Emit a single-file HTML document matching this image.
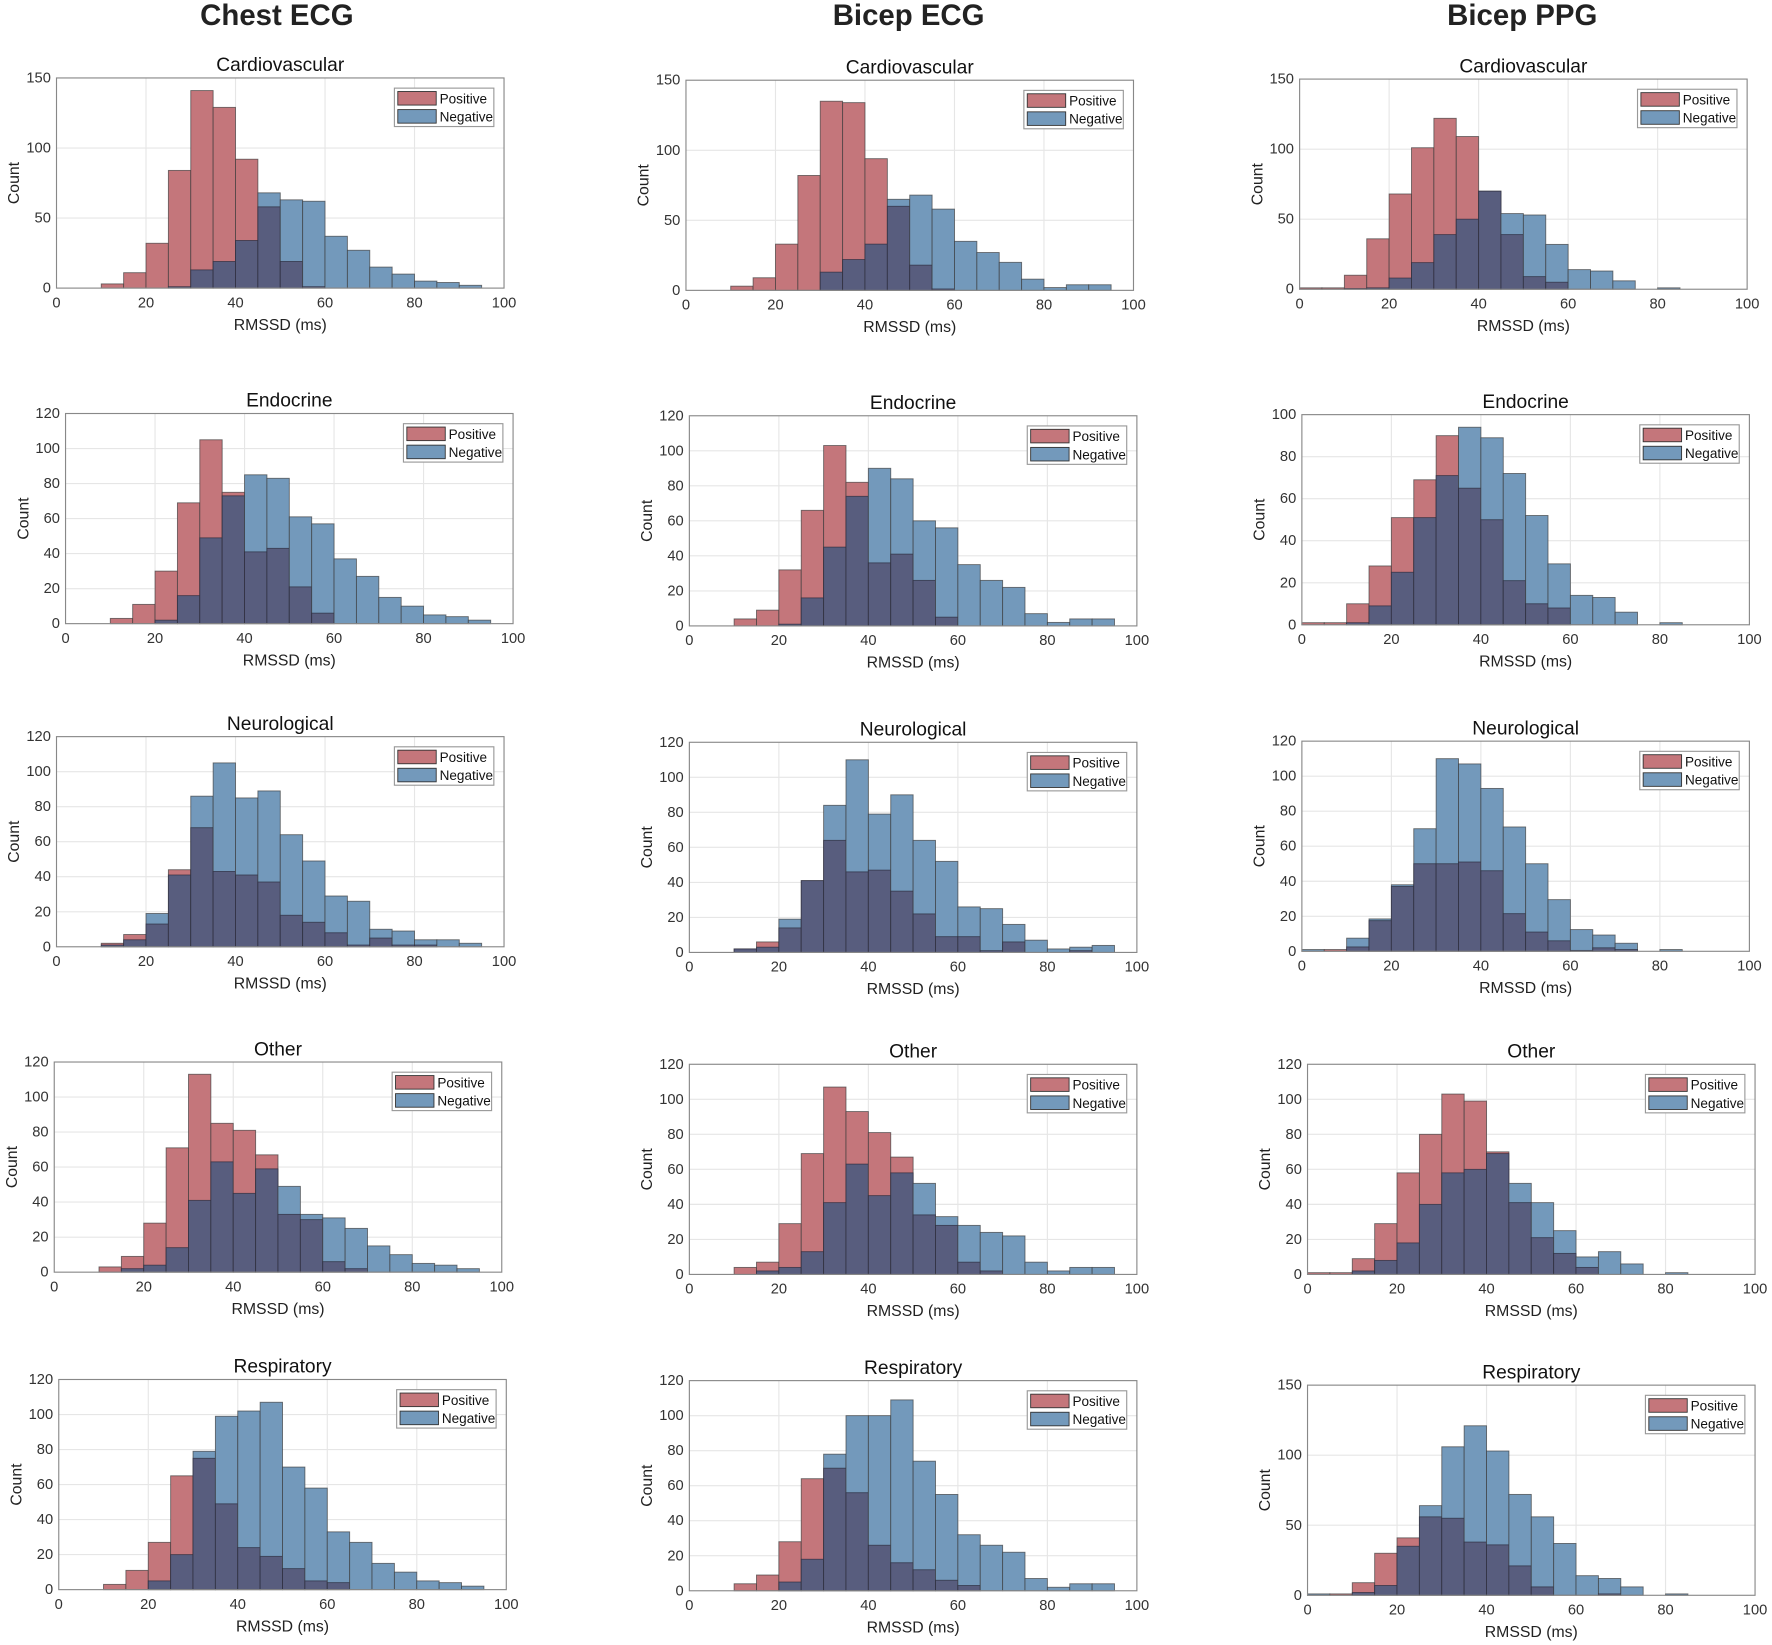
<!DOCTYPE html>
<html><head><meta charset="utf-8"><style>
html,body{margin:0;padding:0;background:#fff;}
svg{display:block;font-family:"Liberation Sans",sans-serif;}
.t{font-size:13px;fill:#333;}
.y{text-anchor:end;}
.x{text-anchor:middle;}
.ti{font-size:17px;fill:#111;text-anchor:middle;}
.xl{font-size:14px;fill:#222;text-anchor:middle;}
.lg{font-size:12px;fill:#111;}
.h{font-size:26px;font-weight:bold;fill:#222;text-anchor:middle;}
</style></head><body>
<svg width="1772" height="1645" viewBox="0 0 1568 1456" preserveAspectRatio="none" xmlns="http://www.w3.org/2000/svg">
<rect width="1568" height="1456" fill="#fff"/>
<text class="h" x="245" y="22">Chest ECG</text>
<text class="h" x="804" y="22">Bicep ECG</text>
<text class="h" x="1347" y="22">Bicep PPG</text>

<!-- template via defs of text groups -->
<defs>
<g id="xt">
<text class="t x" x="0" y="203">0</text><text class="t x" x="79.2" y="203">20</text><text class="t x" x="158.4" y="203">40</text><text class="t x" x="237.6" y="203">60</text><text class="t x" x="316.8" y="203">80</text><text class="t x" x="396" y="203">100</text>
<text class="xl" x="198" y="223">RMSSD (ms)</text>
<text class="xl" transform="translate(-33,93) rotate(-90)">Count</text>
<rect x="0" y="0" width="396" height="186" fill="none" stroke="#888" stroke-width="1"/>
<g transform="translate(299,9)"><rect x="0" y="0" width="88" height="34" fill="#fff" stroke="#999"/>
<rect x="3" y="3" width="34" height="12" fill="#c4767b" stroke="#333" stroke-width="0.8"/>
<rect x="3" y="19" width="34" height="12" fill="#7399bb" stroke="#333" stroke-width="0.8"/>
<text class="lg" x="40" y="13.5">Positive</text><text class="lg" x="40" y="29.5">Negative</text></g>
</g>
</defs>

<g id="P11" transform="translate(50,69)"><g class="b"></g><use href="#xt"/><text class="ti" x="198" y="-6">Cardiovascular</text>
<text class="t y" x="-5" y="190">0</text><text class="t y" x="-5" y="128">50</text><text class="t y" x="-5" y="66">100</text><text class="t y" x="-5" y="4">150</text></g>
<g id="P12" transform="translate(607,71)"><g class="b"></g><use href="#xt"/><text class="ti" x="198" y="-6">Cardiovascular</text>
<text class="t y" x="-5" y="190">0</text><text class="t y" x="-5" y="128">50</text><text class="t y" x="-5" y="66">100</text><text class="t y" x="-5" y="4">150</text></g>
<g id="P13" transform="translate(1150,70)"><g class="b"></g><use href="#xt"/><text class="ti" x="198" y="-6">Cardiovascular</text>
<text class="t y" x="-5" y="190">0</text><text class="t y" x="-5" y="128">50</text><text class="t y" x="-5" y="66">100</text><text class="t y" x="-5" y="4">150</text></g>

<g id="P21" transform="translate(58,366)"><g class="b"></g><use href="#xt"/><text class="ti" x="198" y="-6">Endocrine</text>
<text class="t y" x="-5" y="190">0</text><text class="t y" x="-5" y="159">20</text><text class="t y" x="-5" y="128">40</text><text class="t y" x="-5" y="97">60</text><text class="t y" x="-5" y="66">80</text><text class="t y" x="-5" y="35">100</text><text class="t y" x="-5" y="4">120</text></g>
<g id="P22" transform="translate(610,368)"><g class="b"></g><use href="#xt"/><text class="ti" x="198" y="-6">Endocrine</text>
<text class="t y" x="-5" y="190">0</text><text class="t y" x="-5" y="159">20</text><text class="t y" x="-5" y="128">40</text><text class="t y" x="-5" y="97">60</text><text class="t y" x="-5" y="66">80</text><text class="t y" x="-5" y="35">100</text><text class="t y" x="-5" y="4">120</text></g>
<g id="P23" transform="translate(1152,367)"><g class="b"></g><use href="#xt"/><text class="ti" x="198" y="-6">Endocrine</text>
<text class="t y" x="-5" y="190">0</text><text class="t y" x="-5" y="152.8">20</text><text class="t y" x="-5" y="115.6">40</text><text class="t y" x="-5" y="78.4">60</text><text class="t y" x="-5" y="41.2">80</text><text class="t y" x="-5" y="4">100</text></g>

<g id="P31" transform="translate(50,652)"><g class="b"></g><use href="#xt"/><text class="ti" x="198" y="-6">Neurological</text>
<text class="t y" x="-5" y="190">0</text><text class="t y" x="-5" y="159">20</text><text class="t y" x="-5" y="128">40</text><text class="t y" x="-5" y="97">60</text><text class="t y" x="-5" y="66">80</text><text class="t y" x="-5" y="35">100</text><text class="t y" x="-5" y="4">120</text></g>
<g id="P32" transform="translate(610,657)"><g class="b"></g><use href="#xt"/><text class="ti" x="198" y="-6">Neurological</text>
<text class="t y" x="-5" y="190">0</text><text class="t y" x="-5" y="159">20</text><text class="t y" x="-5" y="128">40</text><text class="t y" x="-5" y="97">60</text><text class="t y" x="-5" y="66">80</text><text class="t y" x="-5" y="35">100</text><text class="t y" x="-5" y="4">120</text></g>
<g id="P33" transform="translate(1152,656)"><g class="b"></g><use href="#xt"/><text class="ti" x="198" y="-6">Neurological</text>
<text class="t y" x="-5" y="190">0</text><text class="t y" x="-5" y="159">20</text><text class="t y" x="-5" y="128">40</text><text class="t y" x="-5" y="97">60</text><text class="t y" x="-5" y="66">80</text><text class="t y" x="-5" y="35">100</text><text class="t y" x="-5" y="4">120</text></g>

<g id="P41" transform="translate(48,940)"><g class="b"></g><use href="#xt"/><text class="ti" x="198" y="-6">Other</text>
<text class="t y" x="-5" y="190">0</text><text class="t y" x="-5" y="159">20</text><text class="t y" x="-5" y="128">40</text><text class="t y" x="-5" y="97">60</text><text class="t y" x="-5" y="66">80</text><text class="t y" x="-5" y="35">100</text><text class="t y" x="-5" y="4">120</text></g>
<g id="P42" transform="translate(610,942)"><g class="b"></g><use href="#xt"/><text class="ti" x="198" y="-6">Other</text>
<text class="t y" x="-5" y="190">0</text><text class="t y" x="-5" y="159">20</text><text class="t y" x="-5" y="128">40</text><text class="t y" x="-5" y="97">60</text><text class="t y" x="-5" y="66">80</text><text class="t y" x="-5" y="35">100</text><text class="t y" x="-5" y="4">120</text></g>
<g id="P43" transform="translate(1157,942)"><g class="b"></g><use href="#xt"/><text class="ti" x="198" y="-6">Other</text>
<text class="t y" x="-5" y="190">0</text><text class="t y" x="-5" y="159">20</text><text class="t y" x="-5" y="128">40</text><text class="t y" x="-5" y="97">60</text><text class="t y" x="-5" y="66">80</text><text class="t y" x="-5" y="35">100</text><text class="t y" x="-5" y="4">120</text></g>

<g id="P51" transform="translate(52,1221)"><g class="b"></g><use href="#xt"/><text class="ti" x="198" y="-6">Respiratory</text>
<text class="t y" x="-5" y="190">0</text><text class="t y" x="-5" y="159">20</text><text class="t y" x="-5" y="128">40</text><text class="t y" x="-5" y="97">60</text><text class="t y" x="-5" y="66">80</text><text class="t y" x="-5" y="35">100</text><text class="t y" x="-5" y="4">120</text></g>
<g id="P52" transform="translate(610,1222)"><g class="b"></g><use href="#xt"/><text class="ti" x="198" y="-6">Respiratory</text>
<text class="t y" x="-5" y="190">0</text><text class="t y" x="-5" y="159">20</text><text class="t y" x="-5" y="128">40</text><text class="t y" x="-5" y="97">60</text><text class="t y" x="-5" y="66">80</text><text class="t y" x="-5" y="35">100</text><text class="t y" x="-5" y="4">120</text></g>
<g id="P53" transform="translate(1157,1226)"><g class="b"></g><use href="#xt"/><text class="ti" x="198" y="-6">Respiratory</text>
<text class="t y" x="-5" y="190">0</text><text class="t y" x="-5" y="128">50</text><text class="t y" x="-5" y="66">100</text><text class="t y" x="-5" y="4">150</text></g>
</svg>
<script>
var D={
P11:[150,[0,0,3,11,32,84,141,129,92,58,19,1,0,0,0,0,0,0,0,0],[0,0,0,0,0,1,13,19,34,68,63,62,37,27,15,10,5,4,2,0]],
P12:[150,[0,0,3,9,33,82,135,134,94,60,18,1,0,0,0,0,0,0,0,0],[0,0,0,0,0,0,13,22,33,65,68,58,35,27,20,8,2,4,4,0]],
P13:[150,[1,1,10,36,68,101,122,109,70,39,9,5,0,0,0,0,0,0,0,0],[0,0,0.5,1,8,19,39,50,70,54,53,32,14,13,6,0,1,0,0,0]],
P21:[120,[0,0,3,11,30,69,105,75,41,43,21,6,0,0,0,0,0,0,0,0],[0,0,0,0,2,16,49,73,85,83,61,57,37,27,15,10,5,4,2,0]],
P22:[120,[0,0,4,9,32,66,103,82,36,41,26,5,0,0,0,0,0,0,0,0],[0,0,0,0,1,16,45,74,90,84,60,56,35,26,22,7,2,4,4,0]],
P23:[100,[1,1,10,28,51,69,90,65,50,21,10,8,0,0,0,0,0,0,0,0],[0,0,1,9,25,51,71,94,89,72,52,29,14,13,6,0,1,0,0,0]],
P31:[120,[0,0,2,7,13,44,68,43,41,37,18,14,8,1,5,1,1,0,0,0],[0,0,1,4,19,41,86,105,85,89,64,49,29,26,10,9,4,4,2,0]],
P32:[120,[0,0,2,6,14,41,64,46,47,35,22,9,9,1,6,0,0,1,0,0],[0,0,2,3,19,41,84,110,79,90,64,52,26,25,16,7,2,3,4,0]],
P33:[120,[0,1,2.5,17.5,37,50,50,51,46,21.5,11,6,0.5,2,1,0,0,0,0,0],[1,0,7.5,18.5,38,70,110,107,93,71,50,29.5,12.4,9.3,4.6,0,1,0,0,0]],
P41:[120,[0,0,3,9,28,71,113,85,81,67,33,30,6,2,0,0,0,0,0,0],[0,0,0,2,4,14,41,63,45,59,49,33,31,25,15,10,5,4,2,0]],
P42:[120,[0,0,4,7,29,69,107,93,81,67,34,28,7,2,0,0,0,0,0,0],[0,0,0,2,4,13,41,63,45,58,52,33,28,24,22,7,2,4,4,0]],
P43:[120,[1,1,9,29,58,80,103,99,70,41,21,12,4,0,0,0,0,0,0,0],[0,0,2,8,18,40,58,60,69,52,41,25,10,13,6,0,1,0,0,0]],
P51:[120,[0,0,3,11,27,65,75,49,24,19,12,5,4,0,0,0,0,0,0,0],[0,0,0,0,5,20,79,99,102,107,70,58,33,27,15,10,5,4,2,0]],
P52:[120,[0,0,4,9,28,64,70,56,26,16,12,6,3,0,0,0,0,0,0,0],[0,0,0,0,5,18,78,100,100,109,74,55,32,26,22,7,2,4,4,0]],
P53:[150,[0,1,9,30,41,56,55,38,36,21,6,0,0,1,0,0,0,0,0,0],[1,0,2,7,35,64,106,121,103,72,56,37,14,12,6,0,1,0,0,0]]
};
var NS="http://www.w3.org/2000/svg";
function el(g,t,a){var e=document.createElementNS(NS,t);for(var k in a)e.setAttribute(k,a[k]);g.appendChild(e);}
for(var id in D){
 var m=D[id][0],p=D[id][1],n=D[id][2];
 var g=document.getElementById(id).querySelector('.b');
 var W=396,H=186,sx=W/100,sy=H/m;
 for(var i=1;i<5;i++)el(g,'line',{x1:i*79.2,x2:i*79.2,y1:0,y2:H,stroke:'#e6e6e6','stroke-width':1});
 var st=(m==150)?50:20;
 for(var v=st;v<m;v+=st)el(g,'line',{x1:0,x2:W,y1:H-v*sy,y2:H-v*sy,stroke:'#e6e6e6','stroke-width':1});
 for(var b=0;b<20;b++){
  var x=b*5*sx,w=5*sx,a=p[b],c=n[b];
  var hi=Math.max(a,c),lo=Math.min(a,c);
  if(hi>0){el(g,'rect',{x:x,y:H-hi*sy,width:w,height:hi*sy,fill:(a>=c?'#c4767b':'#7399bb'),stroke:'#3a3a3a','stroke-width':0.8,'stroke-opacity':0.7});}
  if(lo>0){el(g,'rect',{x:x,y:H-lo*sy,width:w,height:lo*sy,fill:'#585d7e',stroke:'#2a2a3a','stroke-width':0.8,'stroke-opacity':0.7});}
 }
}
</script>
</body></html>
